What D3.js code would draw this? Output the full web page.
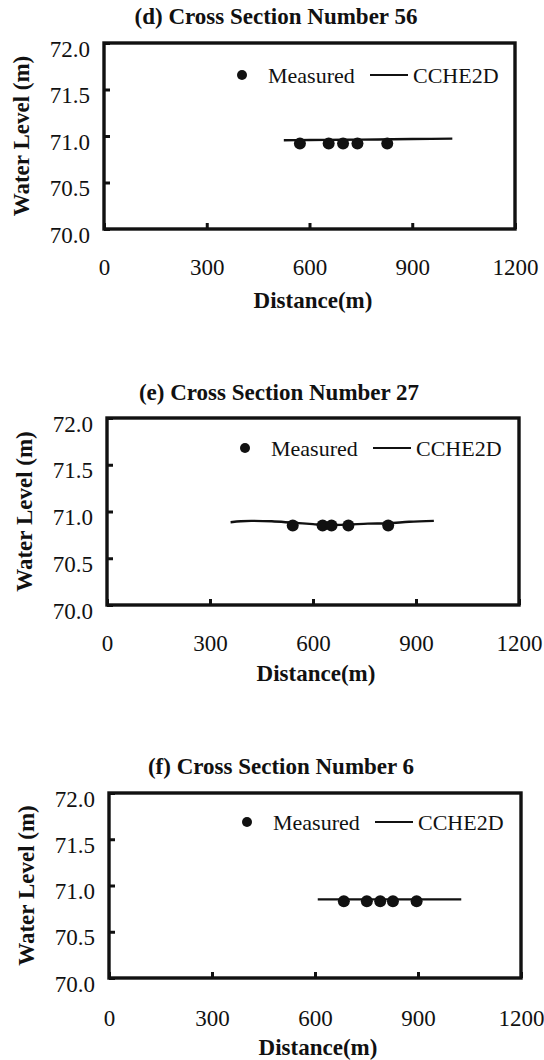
<!DOCTYPE html>
<html><head><meta charset="utf-8">
<script src="https://cdn.jsdelivr.net/npm/d3@7"></script>
<style>html,body{margin:0;padding:0;background:#fff}</style>
</head><body><svg id="c" width="544" height="1060"></svg>
<script>
// ---- data ----
const panelTitles = ["(d) Cross Section Number 56", "(e) Cross Section Number 27", "(f) Cross Section Number 6"];
const xTickValues = [0, 300, 600, 900, 1200];
const yTickValues = [70.0, 70.5, 71.0, 71.5, 72.0];
const legendLabels = ["Measured", "CCHE2D"];
const xLabel = "Distance(m)";
const yLabel = "Water Level (m)";

const measuredDist56 = [572, 656, 698, 740, 827];
const measuredLevel56 = [70.92, 70.92, 70.92, 70.92, 70.92];
const modelDist56 = [525, 600, 700, 800, 900, 1017];
const modelLevel56 = [70.955, 70.957, 70.96, 70.963, 70.967, 70.972];

const measuredDist27 = [541, 628, 654, 703, 819];
const measuredLevel27 = [70.85, 70.85, 70.85, 70.85, 70.85];
const modelDist27 = [360, 390, 420, 480, 540, 600, 640, 700, 760, 820, 880, 952];
const modelLevel27 = [70.885, 70.895, 70.9, 70.895, 70.88, 70.865, 70.855, 70.86, 70.87, 70.875, 70.89, 70.9];

const measuredDist6 = [684, 751, 790, 827, 896];
const measuredLevel6 = [70.83, 70.83, 70.83, 70.83, 70.83];
const modelDist6 = [608, 700, 800, 900, 1026];
const modelLevel6 = [70.85, 70.85, 70.85, 70.85, 70.85];

const panelData = [
  {mx: measuredDist56, my: measuredLevel56, lx: modelDist56, ly: modelLevel56},
  {mx: measuredDist27, my: measuredLevel27, lx: modelDist27, ly: modelLevel27},
  {mx: measuredDist6, my: measuredLevel6, lx: modelDist6, ly: modelLevel6}
];

// ---- layout ----
const layouts = [
  {left: 104, right: 515, top: 43, bottom: 229, titleY: 16, legendY: 75, tickY: 267, axisTitleY: 300},
  {left: 107, right: 519, top: 418, bottom: 605, titleY: 392, legendY: 448, tickY: 643, axisTitleY: 673},
  {left: 109, right: 521, top: 793, bottom: 978, titleY: 766, legendY: 822, tickY: 1018, axisTitleY: 1047}
];

const FONT = "'Liberation Serif','Times New Roman',serif";
const INK = "#111";
const svg = d3.select("#c");

layouts.forEach((L, i) => {
  const D = panelData[i];
  const g = svg.append("g");
  const x = d3.scaleLinear().domain([0, 1200]).range([L.left, L.right]);
  const y = d3.scaleLinear().domain([70, 72]).range([L.bottom, L.top]);

  // title
  g.append("text").attr("x", L.left + 172).attr("y", L.titleY).attr("dy", "0.35em")
    .attr("text-anchor", "middle").attr("font-family", FONT).attr("font-weight", "bold")
    .attr("font-size", 23).attr("fill", INK).text(panelTitles[i]);

  // x axis
  const xa = g.append("g").attr("transform", `translate(0,${L.bottom})`)
    .call(d3.axisBottom(x).tickValues(xTickValues).tickSizeInner(-6).tickSizeOuter(0).tickFormat(d3.format("d")));
  xa.select(".domain").remove();
  xa.selectAll(".tick line").attr("stroke", INK).attr("stroke-width", 3);
  xa.selectAll(".tick text").attr("y", L.tickY - L.bottom).attr("dy", "0.35em")
    .attr("font-family", FONT).attr("font-size", 23).attr("fill", INK);

  // y axis
  const ya = g.append("g").attr("transform", `translate(${L.left},0)`)
    .call(d3.axisLeft(y).tickValues(yTickValues).tickSizeInner(-6).tickSizeOuter(0).tickFormat(d3.format(".1f")));
  ya.select(".domain").remove();
  ya.selectAll(".tick line").attr("stroke", INK).attr("stroke-width", 3);
  ya.selectAll(".tick text").attr("x", -14).attr("dy", "0.35em").attr("transform", "translate(0,5)")
    .attr("font-family", FONT).attr("font-size", 23).attr("fill", INK);

  // frame
  g.append("rect").attr("x", L.left).attr("y", L.top)
    .attr("width", L.right - L.left).attr("height", L.bottom - L.top)
    .attr("fill", "none").attr("stroke", INK).attr("stroke-width", 3.4);

  // axis titles
  g.append("text").attr("x", L.left + 209).attr("y", L.axisTitleY).attr("dy", "0.35em")
    .attr("text-anchor", "middle").attr("font-family", FONT).attr("font-weight", "bold")
    .attr("font-size", 23).attr("fill", INK).text(xLabel);
  g.append("text").attr("transform", `translate(${L.left - 83},${(L.top + L.bottom) / 2}) rotate(-90)`)
    .attr("dy", "0.35em").attr("text-anchor", "middle").attr("font-family", FONT)
    .attr("font-weight", "bold").attr("font-size", 23).attr("fill", INK).text(yLabel);

  // model line
  const lineData = D.lx.map((v, k) => [v, D.ly[k]]);
  g.append("path").datum(lineData)
    .attr("d", d3.line().x(d => x(d[0])).y(d => y(d[1])).curve(d3.curveMonotoneX))
    .attr("fill", "none").attr("stroke", INK).attr("stroke-width", 2.4);

  // measured points
  const pts = D.mx.map((v, k) => [v, D.my[k]]);
  g.selectAll("circle.m").data(pts).enter().append("circle")
    .attr("cx", d => x(d[0])).attr("cy", d => y(d[1])).attr("r", 6).attr("fill", INK);

  // legend
  g.append("circle").attr("cx", L.left + 138).attr("cy", L.legendY).attr("r", 5).attr("fill", INK);
  g.append("text").attr("x", L.left + 164).attr("y", L.legendY).attr("dy", "0.35em")
    .attr("font-family", FONT).attr("font-size", 22).attr("fill", INK).text(legendLabels[0]);
  g.append("line").attr("x1", L.left + 266).attr("x2", L.left + 304)
    .attr("y1", L.legendY).attr("y2", L.legendY).attr("stroke", INK).attr("stroke-width", 2);
  g.append("text").attr("x", L.left + 309).attr("y", L.legendY).attr("dy", "0.35em")
    .attr("font-family", FONT).attr("font-size", 22).attr("fill", INK).text(legendLabels[1]);
});
</script></body></html>
